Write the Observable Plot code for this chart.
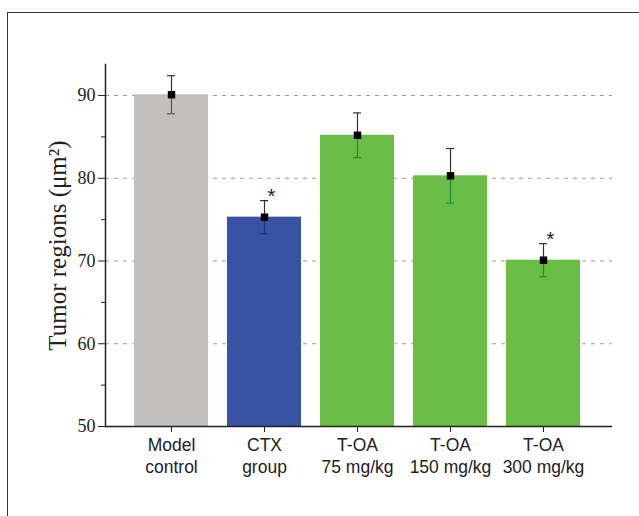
<!DOCTYPE html>
<html><head><meta charset="utf-8">
<script src="https://cdn.jsdelivr.net/npm/d3@7"></script>
<script src="https://cdn.jsdelivr.net/npm/@observablehq/plot@0.6"></script>
<style>
html,body{margin:0;padding:0;background:#fff;}
#wrap{position:relative;width:639px;height:516px;overflow:hidden;}
#frame{position:absolute;left:7px;top:12px;width:700px;height:600px;border-left:1.5px solid #333;border-top:1.5px solid #333;pointer-events:none;}
</style></head>
<body><div id="wrap"><div id="frame"></div><div id="chart"></div></div>
<script>
const categories = ["Model control", "CTX group", "T-OA 75 mg/kg", "T-OA 150 mg/kg", "T-OA 300 mg/kg"];
const tickLabels = ["Model\ncontrol", "CTX\ngroup", "T-OA\n75 mg/kg", "T-OA\n150 mg/kg", "T-OA\n300 mg/kg"];
const means = [90.1, 75.3, 85.2, 80.3, 70.1];
const errors = [2.3, 2.0, 2.7, 3.3, 2.0];
const significant = [false, true, false, false, true];
const barColors = ["#c1c0bf", "#3852a4", "#6abd45", "#6abd45", "#6abd45"];
const lowColors = ["#555555", "#232e7a", "#1d8a3c", "#1d8a3c", "#1d8a3c"];
const yTicks = [50, 60, 70, 80, 90];
const yMinorTicks = [55, 65, 75, 85];
const gridValues = [60, 70, 80, 90];

const data = categories.map((c, i) => ({
  name: c, mean: means[i], lo: means[i] - errors[i], hi: means[i] + errors[i],
  color: barColors[i], low: lowColors[i], star: significant[i]
}));
const labelOf = new Map(categories.map((c, i) => [c, tickLabels[i]]));

const chart = Plot.plot({
  width: 639, height: 516,
  marginTop: 64, marginBottom: 90, marginLeft: 105, marginRight: 27,
  style: {background: "transparent", overflow: "visible"},
  x: {domain: categories, range: [134, 581], paddingInner: 0.2, paddingOuter: 0, align: 0.5},
  y: {domain: [50, 93.75]},
  marks: [
    Plot.ruleY(gridValues, {stroke: "#9a9a9a", strokeDasharray: "4,5", strokeWidth: 1}),
    Plot.barY(data, {x: "name", y1: 50, y2: "mean", fill: d => d.color}),
    Plot.ruleX(data, {x: "name", y1: "mean", y2: "hi", stroke: "#333", strokeWidth: 1.2}),
    Plot.ruleX(data, {x: "name", y1: "lo", y2: "mean", stroke: d => d.low, strokeWidth: 1.2}),
    Plot.tickY(data, {x: "name", y: "hi", stroke: "#333", strokeWidth: 1.2, insetLeft: 33, insetRight: 33}),
    Plot.tickY(data, {x: "name", y: "lo", stroke: d => d.low, strokeWidth: 1.2, insetLeft: 33, insetRight: 33}),
    Plot.dot(data, {x: "name", y: "mean", symbol: "square", r: 4.2, fill: "#000", stroke: null}),
    Plot.text(data.filter(d => d.star), {x: "name", y: "hi", text: () => "*", dx: 7, dy: -4, fontSize: 20, fill: "#222", fontFamily: "Liberation Sans, Arial, sans-serif"}),
    Plot.frame({anchor: "left", stroke: "#222", strokeWidth: 1.5}),
    Plot.ruleY([50], {stroke: "#222", strokeWidth: 1.5}),
    Plot.axisY({ticks: yTicks, tickSize: 7, tickPadding: 3, stroke: "#222", fontSize: 18, fill: "#222",
      fontFamily: "Liberation Serif, Times New Roman, serif",
      label: "Tumor regions (\u03bcm\u00b2)", labelAnchor: "center", labelArrow: "none", labelOffset: 57}),
    Plot.axisY({ticks: yMinorTicks, tickSize: 4, tickFormat: () => "", stroke: "#222", label: null}),
    Plot.axisX({tickSize: 6, tickPadding: 3, stroke: "#222", fill: "#222", fontSize: 17.5, lineHeight: 1.25,
      fontFamily: "Liberation Sans, Arial, sans-serif", tickFormat: d => labelOf.get(d), label: null})
  ]
});
document.getElementById("chart").appendChild(chart);
chart.querySelectorAll("g[aria-label='y-axis label'] text").forEach(t => { t.setAttribute("font-size", "25"); });
</script>
</body></html>
